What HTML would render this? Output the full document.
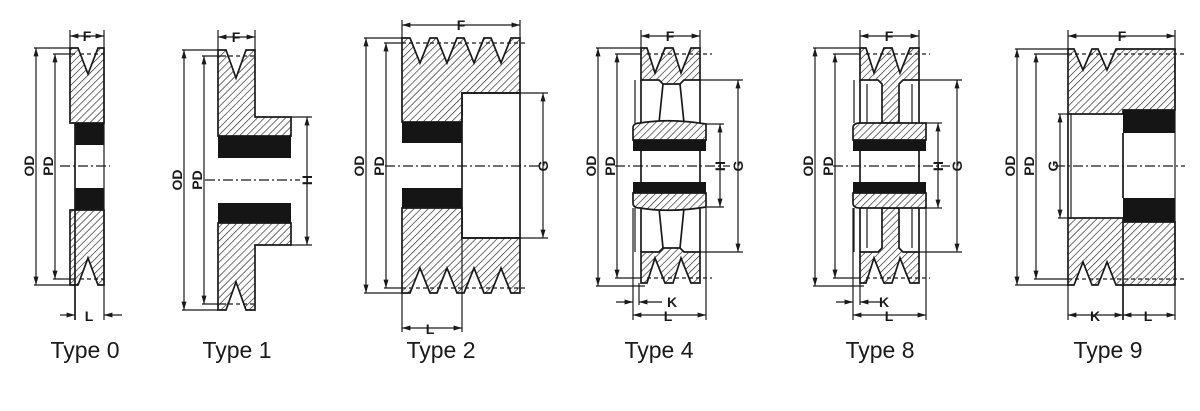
<!DOCTYPE html>
<html><head><meta charset="utf-8"><style>
html,body{margin:0;padding:0;background:#fff;}
svg{display:block;}
.o{fill:none;stroke:#1a1a1a;stroke-width:1.7;}
.t{fill:none;stroke:#1a1a1a;stroke-width:1.2;}
.d{fill:none;stroke:#1a1a1a;stroke-width:1.2;stroke-dasharray:4,3;}
.c{fill:none;stroke:#1a1a1a;stroke-width:1.2;stroke-dasharray:10,3,2,3;}
.h{fill:url(#hat);stroke:#1a1a1a;stroke-width:1.7;}
.b{fill:#151515;}
.lb{font-family:"Liberation Sans",sans-serif;font-weight:bold;font-size:14px;fill:#1a1a1a;}
.ty{font-family:"Liberation Sans",sans-serif;font-size:23px;fill:#1a1a1a;}
</style></head><body>
<svg width="1200" height="411" viewBox="0 0 1200 411" xmlns="http://www.w3.org/2000/svg">
<defs>
<pattern id="hat" patternUnits="userSpaceOnUse" width="5" height="5" patternTransform="rotate(45)">
<rect width="5" height="5" fill="#fff"/><line x1="0" y1="0" x2="0" y2="5" stroke="#222" stroke-width="1.3"/>
</pattern>
<marker id="a" viewBox="0 0 10 10" refX="10" refY="5" markerWidth="7" markerHeight="7" orient="auto-start-reverse"><path d="M0,2 L10,5 L0,8 z" fill="#1a1a1a"/></marker>
</defs>

<!-- TYPE 0 -->
<polygon class="h" points="70,48 78,48 88,74 98,48 104,48 104,123 70,123"/>
<rect class="b" x="75" y="123" width="29" height="22"/>
<rect class="b" x="75" y="188" width="29" height="22"/>
<polygon class="h" points="70,210 104,210 104,285 98,285 88,258 78,285 70,285"/>
<line class="o" x1="75" y1="123" x2="75" y2="320"/>
<line class="t" x1="104" y1="30" x2="104" y2="320"/>
<line class="t" x1="70" y1="30" x2="70" y2="48"/>
<line class="c" x1="60" y1="166" x2="110" y2="166"/>
<line class="d" x1="80" y1="54" x2="104" y2="54"/><line class="d" x1="80" y1="279" x2="104" y2="279"/>
<line class="t" x1="34" y1="48" x2="70" y2="48"/><line class="t" x1="34" y1="285" x2="78" y2="285"/>
<line class="t" x1="36" y1="48" x2="36" y2="285" marker-start="url(#a)" marker-end="url(#a)"/>
<line class="t" x1="53" y1="54" x2="75" y2="54"/><line class="t" x1="53" y1="279" x2="75" y2="279"/>
<line class="t" x1="55" y1="54" x2="55" y2="279" marker-start="url(#a)" marker-end="url(#a)"/>
<line class="t" x1="70" y1="36" x2="104" y2="36" marker-start="url(#a)" marker-end="url(#a)"/>
<line class="t" x1="60" y1="315" x2="75" y2="315" marker-end="url(#a)"/><line class="t" x1="122" y1="315" x2="104" y2="315" marker-end="url(#a)"/>
<text class="lb" x="87" y="41" text-anchor="middle">F</text>
<text class="lb" x="89" y="321" text-anchor="middle">L</text>
<text class="lb" transform="translate(36,166) rotate(-90)" text-anchor="middle" dy="-2">OD</text>
<text class="lb" transform="translate(55,166) rotate(-90)" text-anchor="middle" dy="-2">PD</text>
<text class="ty" x="85" y="358" text-anchor="middle">Type 0</text>

<!-- TYPE 1 -->
<polygon class="h" points="218,50 226,50 236,78 246,50 255,50 255,117 291,117 291,136 218,136"/>
<polygon class="b" points="218,136 291,136 291,158 218,158"/>
<polygon class="b" points="218,203 291,203 291,223 218,223"/>
<polygon class="h" points="218,223 291,223 291,245 255,245 255,310 246,310 236,282 226,310 218,310"/>
<line class="t" x1="218" y1="30" x2="218" y2="50"/><line class="t" x1="255" y1="30" x2="255" y2="50"/>
<line class="c" x1="205" y1="180" x2="300" y2="180"/>
<line class="d" x1="222" y1="56" x2="255" y2="56"/><line class="d" x1="222" y1="304" x2="255" y2="304"/>
<line class="t" x1="182" y1="50" x2="218" y2="50"/><line class="t" x1="182" y1="310" x2="218" y2="310"/>
<line class="t" x1="184" y1="50" x2="184" y2="310" marker-start="url(#a)" marker-end="url(#a)"/>
<line class="t" x1="202" y1="56" x2="222" y2="56"/><line class="t" x1="202" y1="304" x2="222" y2="304"/>
<line class="t" x1="204" y1="56" x2="204" y2="304" marker-start="url(#a)" marker-end="url(#a)"/>
<line class="t" x1="218" y1="37" x2="255" y2="37" marker-start="url(#a)" marker-end="url(#a)"/>
<line class="t" x1="291" y1="117" x2="312" y2="117"/><line class="t" x1="291" y1="245" x2="312" y2="245"/>
<line class="t" x1="307" y1="117" x2="307" y2="245" marker-start="url(#a)" marker-end="url(#a)"/>
<text class="lb" x="236" y="42" text-anchor="middle">F</text>
<text class="lb" transform="translate(307,180) rotate(-90)" text-anchor="middle" dy="5">H</text>
<text class="lb" transform="translate(184,180) rotate(-90)" text-anchor="middle" dy="-2">OD</text>
<text class="lb" transform="translate(204,180) rotate(-90)" text-anchor="middle" dy="-2">PD</text>
<text class="ty" x="237" y="358" text-anchor="middle">Type 1</text>

<!-- TYPE 2 -->
<polygon class="h" points="402,38 410,38 420,63 430,38 437,38 447,63 457,38 464,38 474,63 484,38 491,38 501,63 511,38 520,38 520,93 462,93 462,122 402,122"/>
<rect class="b" x="402" y="122" width="60" height="21"/>
<rect class="b" x="402" y="188" width="60" height="20"/>
<polygon class="h" points="402,208 462,208 462,238 520,238 520,293 511,293 501,268 491,293 484,293 474,268 464,293 457,293 447,268 437,293 430,293 420,268 410,293 402,293"/>
<rect class="o" x="462" y="93" width="58" height="145" fill="#fff"/>
<line class="t" x1="402" y1="20" x2="402" y2="38"/><line class="t" x1="520" y1="20" x2="520" y2="38"/>
<line class="c" x1="385" y1="166" x2="540" y2="166"/>
<line class="d" x1="402" y1="43" x2="527" y2="43"/><line class="d" x1="402" y1="288" x2="527" y2="288"/>
<line class="t" x1="364" y1="38" x2="402" y2="38"/><line class="t" x1="364" y1="293" x2="402" y2="293"/>
<line class="t" x1="366" y1="38" x2="366" y2="293" marker-start="url(#a)" marker-end="url(#a)"/>
<line class="t" x1="384" y1="43" x2="402" y2="43"/><line class="t" x1="384" y1="288" x2="402" y2="288"/>
<line class="t" x1="386" y1="43" x2="386" y2="288" marker-start="url(#a)" marker-end="url(#a)"/>
<line class="t" x1="402" y1="25" x2="520" y2="25" marker-start="url(#a)" marker-end="url(#a)"/>
<line class="t" x1="520" y1="93" x2="548" y2="93"/><line class="t" x1="520" y1="238" x2="548" y2="238"/>
<line class="t" x1="543" y1="93" x2="543" y2="238" marker-start="url(#a)" marker-end="url(#a)"/>
<line class="t" x1="402" y1="293" x2="402" y2="332"/><line class="t" x1="462" y1="238" x2="462" y2="332"/>
<line class="t" x1="402" y1="328" x2="462" y2="328" marker-start="url(#a)" marker-end="url(#a)"/>
<text class="lb" x="461" y="30" text-anchor="middle">F</text>
<text class="lb" x="430" y="334" text-anchor="middle">L</text>
<text class="lb" transform="translate(543,166) rotate(-90)" text-anchor="middle" dy="5">G</text>
<text class="lb" transform="translate(366,166) rotate(-90)" text-anchor="middle" dy="-2">OD</text>
<text class="lb" transform="translate(386,166) rotate(-90)" text-anchor="middle" dy="-2">PD</text>
<text class="ty" x="441" y="358" text-anchor="middle">Type 2</text>

<!-- TYPE 4 -->
<g>
<polygon class="h" points="641,48 647,48 655,73 665,48 673,48 681,73 691,48 700,48 700,80 684,80 680,84 663,84 659,80 641,80"/>
<polygon class="h" points="641,283 647,283 655,258 665,283 673,283 681,258 691,283 700,283 700,252 684,252 680,248 663,248 659,252 641,252"/>
<line class="o" x1="641" y1="80" x2="641" y2="252"/><line class="o" x1="700" y1="80" x2="700" y2="252"/>
<line class="o" x1="663" y1="84" x2="659" y2="123"/><line class="o" x1="680" y1="84" x2="684" y2="123"/>
<line class="o" x1="663" y1="248" x2="659" y2="208"/><line class="o" x1="680" y1="248" x2="684" y2="208"/>
<line class="t" x1="635" y1="80" x2="635" y2="123"/><line class="t" x1="635" y1="208" x2="635" y2="252"/>
<path class="h" d="M633,140 L633,128 Q633,123 640,123 Q670,118 706,124 L706,140 Z"/>
<rect class="b" x="633" y="140" width="73" height="11"/>
<rect class="b" x="633" y="182" width="73" height="11"/>
<path class="h" d="M633,193 L706,193 L706,207 Q670,213 640,208 Q633,208 633,203 Z"/>
<line class="t" x1="641" y1="30" x2="641" y2="48"/><line class="t" x1="700" y1="30" x2="700" y2="48"/>
<line class="c" x1="615" y1="166" x2="730" y2="166"/>
<line class="d" x1="647" y1="54" x2="712" y2="54"/><line class="d" x1="647" y1="278" x2="712" y2="278"/>
<line class="t" x1="596" y1="48" x2="641" y2="48"/><line class="t" x1="596" y1="286" x2="645" y2="286"/>
<line class="t" x1="598" y1="48" x2="598" y2="286" marker-start="url(#a)" marker-end="url(#a)"/>
<line class="t" x1="615" y1="54" x2="641" y2="54"/><line class="t" x1="615" y1="278" x2="641" y2="278"/>
<line class="t" x1="617" y1="54" x2="617" y2="278" marker-start="url(#a)" marker-end="url(#a)"/>
<line class="t" x1="641" y1="36" x2="700" y2="36" marker-start="url(#a)" marker-end="url(#a)"/>
<line class="t" x1="700" y1="80" x2="743" y2="80"/><line class="t" x1="700" y1="252" x2="743" y2="252"/>
<line class="t" x1="738" y1="80" x2="738" y2="252" marker-start="url(#a)" marker-end="url(#a)"/>
<line class="t" x1="706" y1="124" x2="724" y2="124"/><line class="t" x1="706" y1="207" x2="724" y2="207"/>
<line class="t" x1="720" y1="124" x2="720" y2="207" marker-start="url(#a)" marker-end="url(#a)"/>
<line class="t" x1="633" y1="208" x2="633" y2="320"/><line class="t" x1="706" y1="208" x2="706" y2="320"/><line class="t" x1="639" y1="283" x2="639" y2="305"/>
<line class="t" x1="616" y1="302" x2="633" y2="302" marker-end="url(#a)"/><line class="t" x1="662" y1="302" x2="639" y2="302" marker-end="url(#a)"/>
<line class="t" x1="633" y1="315" x2="706" y2="315" marker-start="url(#a)" marker-end="url(#a)"/>
<text class="lb" x="670" y="41" text-anchor="middle">F</text>
<text class="lb" x="672" y="307" text-anchor="middle">K</text>
<text class="lb" x="668" y="321" text-anchor="middle">L</text>
<text class="lb" transform="translate(738,166) rotate(-90)" text-anchor="middle" dy="5">G</text>
<text class="lb" transform="translate(720,166) rotate(-90)" text-anchor="middle" dy="5">H</text>
<text class="lb" transform="translate(598,166) rotate(-90)" text-anchor="middle" dy="-2">OD</text>
<text class="lb" transform="translate(617,166) rotate(-90)" text-anchor="middle" dy="-2">PD</text>
<text class="ty" x="659" y="358" text-anchor="middle">Type 4</text>
</g>

<!-- TYPE 8 -->
<g>
<polygon class="h" points="860,48 866,48 874,73 884,48 892,48 900,73 910,48 919,48 919,80 903,80 899,84 899,123 882,123 882,84 878,80 860,80"/>
<polygon class="h" points="860,283 866,283 874,258 884,283 892,283 900,258 910,283 919,283 919,252 903,252 899,248 899,208 882,208 882,248 878,252 860,252"/>
<line class="o" x1="860" y1="80" x2="860" y2="252"/><line class="o" x1="919" y1="80" x2="919" y2="252"/>
<line class="t" x1="854" y1="80" x2="854" y2="123"/><line class="t" x1="854" y1="208" x2="854" y2="252"/>
<line class="t" x1="867" y1="84" x2="867" y2="123"/><line class="t" x1="912" y1="84" x2="912" y2="123"/>
<line class="t" x1="867" y1="208" x2="867" y2="248"/><line class="t" x1="912" y1="208" x2="912" y2="248"/>
<path class="h" d="M853,140 L853,128 Q853,123 860,123 L926,123 L926,140 Z"/>
<rect class="b" x="853" y="140" width="73" height="11"/>
<rect class="b" x="853" y="182" width="73" height="11"/>
<path class="h" d="M853,193 L926,193 L926,208 L860,208 Q853,208 853,203 Z"/>
<line class="t" x1="860" y1="30" x2="860" y2="48"/><line class="t" x1="919" y1="30" x2="919" y2="48"/>
<line class="c" x1="833" y1="166" x2="950" y2="166"/>
<line class="d" x1="866" y1="54" x2="930" y2="54"/><line class="d" x1="866" y1="278" x2="930" y2="278"/>
<line class="t" x1="813" y1="48" x2="860" y2="48"/><line class="t" x1="813" y1="286" x2="864" y2="286"/>
<line class="t" x1="815" y1="48" x2="815" y2="286" marker-start="url(#a)" marker-end="url(#a)"/>
<line class="t" x1="833" y1="54" x2="860" y2="54"/><line class="t" x1="833" y1="278" x2="860" y2="278"/>
<line class="t" x1="835" y1="54" x2="835" y2="278" marker-start="url(#a)" marker-end="url(#a)"/>
<line class="t" x1="860" y1="36" x2="919" y2="36" marker-start="url(#a)" marker-end="url(#a)"/>
<line class="t" x1="919" y1="80" x2="962" y2="80"/><line class="t" x1="919" y1="252" x2="962" y2="252"/>
<line class="t" x1="957" y1="80" x2="957" y2="252" marker-start="url(#a)" marker-end="url(#a)"/>
<line class="t" x1="926" y1="123" x2="942" y2="123"/><line class="t" x1="926" y1="208" x2="942" y2="208"/>
<line class="t" x1="938" y1="123" x2="938" y2="208" marker-start="url(#a)" marker-end="url(#a)"/>
<line class="t" x1="853" y1="208" x2="853" y2="320"/><line class="t" x1="926" y1="208" x2="926" y2="320"/><line class="t" x1="860" y1="283" x2="860" y2="305"/>
<line class="t" x1="836" y1="302" x2="853" y2="302" marker-end="url(#a)"/><line class="t" x1="880" y1="302" x2="860" y2="302" marker-end="url(#a)"/>
<line class="t" x1="853" y1="315" x2="926" y2="315" marker-start="url(#a)" marker-end="url(#a)"/>
<text class="lb" x="889" y="41" text-anchor="middle">F</text>
<text class="lb" x="884" y="307" text-anchor="middle">K</text>
<text class="lb" x="889" y="321" text-anchor="middle">L</text>
<text class="lb" transform="translate(957,166) rotate(-90)" text-anchor="middle" dy="5">G</text>
<text class="lb" transform="translate(938,166) rotate(-90)" text-anchor="middle" dy="5">H</text>
<text class="lb" transform="translate(815,166) rotate(-90)" text-anchor="middle" dy="-2">OD</text>
<text class="lb" transform="translate(835,166) rotate(-90)" text-anchor="middle" dy="-2">PD</text>
<text class="ty" x="880" y="358" text-anchor="middle">Type 8</text>
</g>

<!-- TYPE 9 -->
<g>
<polygon class="h" points="1068,49 1074,49 1083,70 1092,49 1098,49 1107,70 1116,49 1175,49 1175,110 1123,110 1123,114 1068,114"/>
<rect class="b" x="1123" y="110" width="52" height="23"/>
<rect class="b" x="1123" y="198" width="52" height="24"/>
<polygon class="h" points="1068,218 1123,218 1123,222 1175,222 1175,285 1123,285 1116,285 1107,262 1098,285 1092,285 1083,262 1074,285 1068,285"/>
<line class="o" x1="1068" y1="114" x2="1068" y2="218"/><line class="t" x1="1071" y1="114" x2="1071" y2="218"/>
<line class="o" x1="1123" y1="133" x2="1123" y2="198"/>
<line class="o" x1="1123" y1="222" x2="1123" y2="320"/>
<line class="t" x1="1068" y1="30" x2="1068" y2="49"/><line class="t" x1="1175" y1="30" x2="1175" y2="320"/><line class="t" x1="1068" y1="285" x2="1068" y2="320"/>
<line class="c" x1="1055" y1="166" x2="1185" y2="166"/>
<line class="d" x1="1068" y1="54" x2="1185" y2="54"/><line class="d" x1="1068" y1="279" x2="1185" y2="279"/>
<line class="t" x1="1015" y1="49" x2="1068" y2="49"/><line class="t" x1="1015" y1="285" x2="1068" y2="285"/>
<line class="t" x1="1017" y1="49" x2="1017" y2="285" marker-start="url(#a)" marker-end="url(#a)"/>
<line class="t" x1="1034" y1="54" x2="1068" y2="54"/><line class="t" x1="1034" y1="279" x2="1068" y2="279"/>
<line class="t" x1="1036" y1="54" x2="1036" y2="279" marker-start="url(#a)" marker-end="url(#a)"/>
<line class="t" x1="1058" y1="114" x2="1068" y2="114"/><line class="t" x1="1058" y1="218" x2="1068" y2="218"/>
<line class="t" x1="1060" y1="114" x2="1060" y2="218" marker-start="url(#a)" marker-end="url(#a)"/>
<line class="t" x1="1068" y1="36" x2="1175" y2="36" marker-start="url(#a)" marker-end="url(#a)"/>
<line class="t" x1="1068" y1="315" x2="1123" y2="315" marker-start="url(#a)" marker-end="url(#a)"/>
<line class="t" x1="1123" y1="315" x2="1175" y2="315" marker-start="url(#a)" marker-end="url(#a)"/>
<text class="lb" x="1122" y="41" text-anchor="middle">F</text>
<text class="lb" x="1095" y="321" text-anchor="middle">K</text>
<text class="lb" x="1148" y="321" text-anchor="middle">L</text>
<text class="lb" transform="translate(1060,166) rotate(-90)" text-anchor="middle" dy="-2">G</text>
<text class="lb" transform="translate(1017,166) rotate(-90)" text-anchor="middle" dy="-2">OD</text>
<text class="lb" transform="translate(1036,166) rotate(-90)" text-anchor="middle" dy="-2">PD</text>
<text class="ty" x="1108" y="358" text-anchor="middle">Type 9</text>
</g>
</svg>
</body></html>
